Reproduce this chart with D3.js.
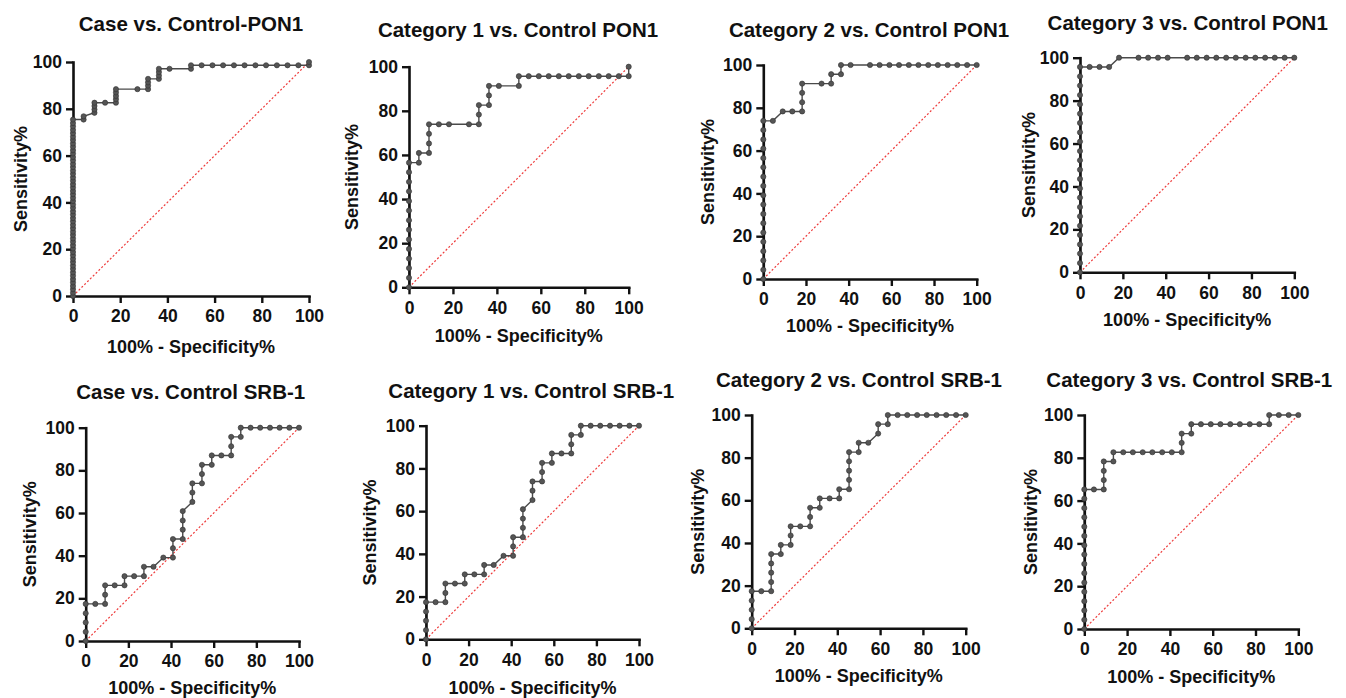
<!DOCTYPE html>
<html>
<head>
<meta charset="utf-8">
<script src="https://cdn.jsdelivr.net/npm/d3@7"></script>
<style>
  html, body { margin: 0; padding: 0; background: #ffffff; }
  svg { display: block; }
  text { font-family: "Liberation Sans", Arial, sans-serif; font-weight: bold; fill: #111; }
</style>
</head>
<body>
<svg id="chart" width="1346" height="698"></svg>
<script>
// ---------------- DATA ----------------
const titles = [
  "Case vs. Control-PON1",
  "Category 1 vs. Control PON1",
  "Category 2 vs. Control PON1",
  "Category 3 vs. Control PON1",
  "Case vs. Control SRB-1",
  "Category 1 vs. Control SRB-1",
  "Category 2 vs. Control SRB-1",
  "Category 3 vs. Control SRB-1"
];
const xAxisLabel = "100% - Specificity%";
const yAxisLabel = "Sensitivity%";
const tickValues = [0, 20, 40, 60, 80, 100];

// [100% - Specificity%, Sensitivity%]
const caseControlPON1 = [
  [0,0],[0,1.4],[0,2.9],[0,4.3],[0,5.8],[0,7.2],[0,8.7],[0,10.1],[0,11.6],[0,13.0],[0,14.5],[0,15.9],
  [0,17.4],[0,18.8],[0,20.3],[0,21.7],[0,23.2],[0,24.6],[0,26.1],[0,27.5],[0,29.0],[0,30.4],[0,31.9],
  [0,33.3],[0,34.8],[0,36.2],[0,37.7],[0,39.1],[0,40.6],[0,42.0],[0,43.5],[0,44.9],[0,46.4],[0,47.8],
  [0,49.3],[0,50.7],[0,52.2],[0,53.6],[0,55.1],[0,56.5],[0,58.0],[0,59.4],[0,60.9],[0,62.3],[0,63.8],
  [0,65.2],[0,66.7],[0,68.1],[0,69.6],[0,71.0],[0,72.5],[0,73.9],[0,75.4],
  [4.5,75.4],[4.5,76.8],[9.1,78.3],[9.1,79.7],[9.1,81.2],[9.1,82.6],[13.6,82.6],[18.2,82.6],[18.2,84.1],
  [18.2,85.5],[18.2,87.0],[18.2,88.4],[27.3,88.4],[31.8,88.4],[31.8,89.9],[31.8,91.3],[31.8,92.8],
  [36.4,92.8],[36.4,94.2],[36.4,95.7],[36.4,97.1],[40.9,97.1],[50,97.1],[50,98.6],[54.5,98.6],[59.1,98.6],
  [63.6,98.6],[68.2,98.6],[72.7,98.6],[77.3,98.6],[81.8,98.6],[86.4,98.6],[90.9,98.6],[95.5,98.6],
  [100,98.6],[100,100]
];
const cat1ControlPON1 = [
  [0,0],[0,4.3],[0,8.7],[0,13.0],[0,17.4],[0,21.7],[0,26.1],[0,30.4],[0,34.8],[0,39.1],[0,43.5],[0,47.8],
  [0,52.2],[0,56.5],[4.5,56.5],[4.5,60.9],[9.1,60.9],[9.1,65.2],[9.1,69.6],[9.1,73.9],[13.6,73.9],
  [18.2,73.9],[27.3,73.9],[31.8,73.9],[31.8,78.3],[31.8,82.6],[36.4,82.6],[36.4,87.0],[36.4,91.3],
  [40.9,91.3],[50,91.3],[50,95.7],[54.5,95.7],[59.1,95.7],[63.6,95.7],[68.2,95.7],[72.7,95.7],[77.3,95.7],
  [81.8,95.7],[86.4,95.7],[90.9,95.7],[95.5,95.7],[100,95.7],[100,100]
];
const cat2ControlPON1 = [
  [0,0],[0,4.3],[0,8.7],[0,13.0],[0,17.4],[0,21.7],[0,26.1],[0,30.4],[0,34.8],[0,39.1],[0,43.5],[0,47.8],
  [0,52.2],[0,56.5],[0,60.9],[0,65.2],[0,69.6],[0,73.9],[4.5,73.9],[9.1,78.3],[13.6,78.3],[18.2,78.3],
  [18.2,82.6],[18.2,87.0],[18.2,91.3],[27.3,91.3],[31.8,91.3],[31.8,95.7],[36.4,95.7],[36.4,100],
  [40.9,100],[50,100],[54.5,100],[59.1,100],[63.6,100],[68.2,100],[72.7,100],[77.3,100],[81.8,100],
  [86.4,100],[90.9,100],[95.5,100],[100,100]
];
const cat3ControlPON1 = [
  [0,0],[0,4.3],[0,8.7],[0,13.0],[0,17.4],[0,21.7],[0,26.1],[0,30.4],[0,34.8],[0,39.1],[0,43.5],[0,47.8],
  [0,52.2],[0,56.5],[0,60.9],[0,65.2],[0,69.6],[0,73.9],[0,78.3],[0,82.6],[0,87.0],[0,91.3],[0,95.7],
  [4.5,95.7],[9.1,95.7],[13.6,95.7],[18.2,100],[27.3,100],[31.8,100],[36.4,100],[40.9,100],[50,100],
  [54.5,100],[59.1,100],[63.6,100],[68.2,100],[72.7,100],[77.3,100],[81.8,100],[86.4,100],[90.9,100],
  [95.5,100],[100,100]
];
const caseControlSRB1 = [
  [0,0],[0,4.3],[0,8.7],[0,13.0],[0,17.4],[4.5,17.4],[9.1,17.4],[9.1,21.7],[9.1,26.1],[13.6,26.1],
  [18.2,26.1],[18.2,30.4],[22.7,30.4],[27.3,30.4],[27.3,34.8],[31.8,34.8],[36.4,39.1],[40.9,39.1],
  [40.9,43.5],[40.9,47.8],[45.5,47.8],[45.5,52.2],[45.5,56.5],[45.5,60.9],[50,65.2],[50,69.6],[50,73.9],
  [54.5,73.9],[54.5,78.3],[54.5,82.6],[59.1,82.6],[59.1,87.0],[63.6,87.0],[68.2,87.0],[68.2,91.3],
  [68.2,95.7],[72.7,95.7],[72.7,100],[77.3,100],[81.8,100],[86.4,100],[90.9,100],[95.5,100],[100,100]
];
const cat1ControlSRB1 = [
  [0,0],[0,4.3],[0,8.7],[0,13.0],[0,17.4],[4.5,17.4],[9.1,17.4],[9.1,21.7],[9.1,26.1],[13.6,26.1],
  [18.2,26.1],[18.2,30.4],[22.7,30.4],[27.3,30.4],[27.3,34.8],[31.8,34.8],[36.4,39.1],[40.9,39.1],
  [40.9,43.5],[40.9,47.8],[45.5,47.8],[45.5,52.2],[45.5,56.5],[45.5,60.9],[50,65.2],[50,69.6],[50,73.9],
  [54.5,73.9],[54.5,78.3],[54.5,82.6],[59.1,82.6],[59.1,87.0],[63.6,87.0],[68.2,87.0],[68.2,91.3],
  [68.2,95.7],[72.7,95.7],[72.7,100],[77.3,100],[81.8,100],[86.4,100],[90.9,100],[95.5,100],[100,100]
];
const cat2ControlSRB1 = [
  [0,0],[0,4.3],[0,8.7],[0,13.0],[0,17.4],[4.5,17.4],[9.1,17.4],[9.1,21.7],[9.1,26.1],[9.1,30.4],
  [9.1,34.8],[13.6,34.8],[13.6,39.1],[18.2,39.1],[18.2,43.5],[18.2,47.8],[22.7,47.8],[27.3,47.8],
  [27.3,52.2],[27.3,56.5],[31.8,56.5],[31.8,60.9],[36.4,60.9],[40.9,60.9],[40.9,65.2],[45.5,65.2],
  [45.5,69.6],[45.5,73.9],[45.5,78.3],[45.5,82.6],[50,82.6],[50,87.0],[54.5,87.0],[59.1,91.3],[59.1,95.7],
  [63.6,95.7],[63.6,100],[68.2,100],[72.7,100],[77.3,100],[81.8,100],[86.4,100],[90.9,100],[95.5,100],
  [100,100]
];
const cat3ControlSRB1 = [
  [0,0],[0,4.3],[0,8.7],[0,13.0],[0,17.4],[0,21.7],[0,26.1],[0,30.4],[0,34.8],[0,39.1],[0,43.5],[0,47.8],
  [0,52.2],[0,56.5],[0,60.9],[0,65.2],[4.5,65.2],[9.1,65.2],[9.1,69.6],[9.1,73.9],[9.1,78.3],[13.6,78.3],
  [13.6,82.6],[18.2,82.6],[22.7,82.6],[27.3,82.6],[31.8,82.6],[36.4,82.6],[40.9,82.6],[45.5,82.6],
  [45.5,87.0],[45.5,91.3],[50,91.3],[50,95.7],[54.5,95.7],[59.1,95.7],[63.6,95.7],[68.2,95.7],[72.7,95.7],
  [77.3,95.7],[81.8,95.7],[86.4,95.7],[86.4,100],[90.9,100],[95.5,100],[100,100]
];
const referenceLine = [[0,0],[100,100]];

const series = [caseControlPON1, cat1ControlPON1, cat2ControlPON1, cat3ControlPON1,
                caseControlSRB1, cat1ControlSRB1, cat2ControlSRB1, cat3ControlSRB1];

// ---------------- LAYOUT (plot boxes in px) ----------------
const layout = [
  {x0:73,   x1:309,   yT:62,   yB:296,   tX:191,   tY:31,   xlY:353,   ylX:21},
  {x0:409,  x1:628.7, yT:66.7, yB:287.3, tX:518,   tY:37,   xlY:341.5, ylX:352},
  {x0:763.3,x1:976.7, yT:65,   yB:279,   tX:869,   tY:36.5, xlY:332,   ylX:708},
  {x0:1080, x1:1294.3,yT:57.7, yB:272.3, tX:1187.7,tY:30,   xlY:325.5, ylX:1029},
  {x0:85.7, x1:299,   yT:427.7,yB:641,   tX:190.7, tY:399,  xlY:693.5, ylX:30},
  {x0:426,  x1:639,   yT:425.7,yB:639.3, tX:531.3, tY:398,  xlY:693.5, ylX:370},
  {x0:751.7,x1:965.7, yT:415,  yB:628.3, tX:859,   tY:386.5,xlY:682,   ylX:698},
  {x0:1084.3,x1:1298.3,yT:415, yB:629,   tX:1189.3,tY:386.5,xlY:682.5, ylX:1031}
];

const svg = d3.select("#chart");

series.forEach((data, i) => {
  const L = layout[i];
  const x = d3.scaleLinear().domain([0, 100]).range([L.x0, L.x1]);
  const y = d3.scaleLinear().domain([0, 100]).range([L.yB, L.yT]);
  const g = svg.append("g");

  g.append("text")
    .attr("x", L.tX).attr("y", L.tY)
    .attr("text-anchor", "middle")
    .style("font-size", "20.5px")
    .text(titles[i]);

  // reference diagonal
  g.append("path")
    .datum(referenceLine)
    .attr("d", d3.line().x(d => x(d[0])).y(d => y(d[1])))
    .attr("fill", "none")
    .attr("stroke", "#ee3b3b")
    .attr("stroke-width", 1.2)
    .attr("stroke-dasharray", "2,2");

  // ROC curve
  g.append("path")
    .datum(data)
    .attr("d", d3.line().x(d => x(d[0])).y(d => y(d[1])))
    .attr("fill", "none")
    .attr("stroke", "#4a4a4a")
    .attr("stroke-width", 1.4);

  const xAxis = d3.axisBottom(x).tickValues(tickValues).tickSize(7).tickSizeOuter(0).tickPadding(7);
  const yAxis = d3.axisLeft(y).tickValues(tickValues).tickSize(7).tickSizeOuter(0).tickPadding(4);

  const gx = g.append("g").attr("transform", `translate(0,${L.yB})`).call(xAxis);
  const gy = g.append("g").attr("transform", `translate(${L.x0},0)`).call(yAxis);
  [gx, gy].forEach(ax => {
    ax.select(".domain").attr("stroke", "#111").attr("stroke-width", 2.6).attr("stroke-linecap", "square");
    ax.selectAll(".tick line").attr("stroke", "#111").attr("stroke-width", 2.4);
    ax.selectAll(".tick text")
      .style("font-family", '"Liberation Sans", Arial, sans-serif')
      .style("font-weight", "bold")
      .style("font-size", "17.5px")
      .attr("fill", "#111");
  });

  g.append("g").selectAll("circle")
    .data(data)
    .join("circle")
    .attr("cx", d => x(d[0]))
    .attr("cy", d => y(d[1]))
    .attr("r", 2.6)
    .attr("fill", "#555")
    .attr("stroke", "#333")
    .attr("stroke-width", 0.6);

  g.append("text")
    .attr("x", (L.x0 + L.x1) / 2).attr("y", L.xlY)
    .attr("text-anchor", "middle")
    .style("font-size", "18px")
    .text(xAxisLabel);
  g.append("text")
    .attr("transform", `translate(${L.ylX},${(L.yT + L.yB) / 2}) rotate(-90)`)
    .attr("text-anchor", "middle")
    .attr("dy", "0.35em")
    .style("font-size", "18px")
    .text(yAxisLabel);
});
</script>
</body>
</html>
